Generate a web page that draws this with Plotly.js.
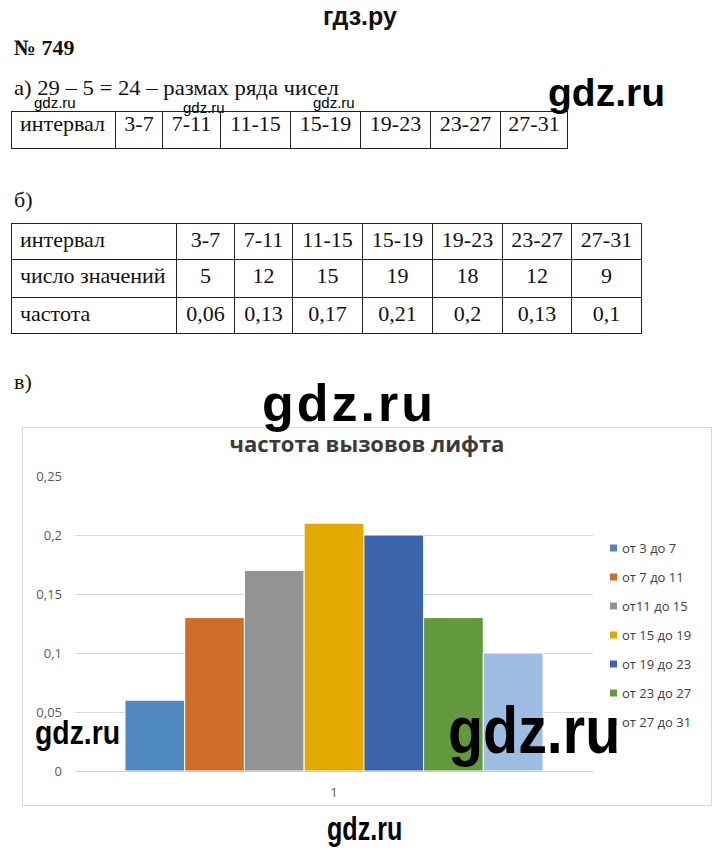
<!DOCTYPE html>
<html><head><meta charset="utf-8">
<script src="https://cdn.plot.ly/plotly-3.0.1.min.js"></script>
<style>
html,body{margin:0;padding:0;background:#fff;width:720px;height:863px;overflow:hidden}
body{position:relative}
.t{position:absolute;white-space:nowrap;line-height:1;color:#111;font-family:"Liberation Serif","Times New Roman",serif}
.wm{position:absolute;white-space:nowrap;line-height:1;font-family:"Liberation Sans",Arial,sans-serif;font-weight:bold;color:#000;z-index:10;transform-origin:0 0}
.cell{position:absolute;box-sizing:border-box;border:1px solid #222;font-family:"Liberation Serif","Times New Roman",serif;font-size:22px;line-height:1;color:#111;white-space:nowrap;display:flex;justify-content:center}
#frame{position:absolute;left:22px;top:427px;width:690px;height:379px;box-sizing:border-box;border:1px solid #d9d9d9;z-index:1;background:#fff}
#chart{position:absolute;left:0;top:0;width:688px;height:377px}
</style></head>
<body>
<div class="wm" style="left:323px;top:4px;font-size:25px;color:#111">гдз.ру</div>
<div class="t" style="left:14px;top:37px;font-size:22px;font-weight:bold">№ 749</div>
<div class="t" style="left:14px;top:77px;font-size:22px;transform:scaleX(1.03);transform-origin:0 0">а) 29 – 5 = 24 – размах ряда чисел</div>
<div class="wm" style="left:548px;top:73px;font-size:39px">gdz.ru</div>
<div class="wm" style="left:34px;top:95px;font-size:15px;font-weight:normal">gdz.ru</div>
<div class="wm" style="left:183px;top:100px;font-size:15px;font-weight:normal">gdz.ru</div>
<div class="wm" style="left:313px;top:95px;font-size:15px;font-weight:normal">gdz.ru</div>
<div id="tableA"></div>
<div class="t" style="left:14px;top:189px;font-size:22px">б)</div>
<div id="tableB"></div>
<div class="t" style="left:14px;top:371px;font-size:22px">в)</div>
<div class="wm" style="left:262px;top:377px;font-size:52px;letter-spacing:3px">gdz.ru</div>
<div id="frame"><div id="chart"></div></div>
<div class="wm" style="left:35px;top:716px;font-size:33px;transform:scaleX(0.86)">gdz.ru</div>
<div class="wm" style="left:448px;top:697px;font-size:66px;transform:scaleX(0.87)">gdz.ru</div>
<div class="wm" style="left:327px;top:812px;font-size:33px;transform:scaleX(0.76)">gdz.ru</div>
<script>
// ---- data ----
const intervals = ['3-7', '7-11', '11-15', '15-19', '19-23', '23-27', '27-31'];
const counts = [5, 12, 15, 19, 18, 12, 9];
const freqs = [0.06, 0.13, 0.17, 0.21, 0.2, 0.13, 0.1];
const seriesNames = ['от 3 до 7', 'от 7 до 11', 'от11 до 15', 'от 15 до 19', 'от 19 до 23', 'от 23 до 27', 'от 27 до 31'];
const category = ['1'];
const yTickVals = [0, 0.05, 0.1, 0.15, 0.2, 0.25];
const yTickText = ['0', '0,05', '0,1', '0,15', '0,2', '0,25'];
const rowLabels = ['интервал', 'число значений', 'частота'];
const chartTitle = 'частота вызовов лифта';

// ---- styles ----
const colors = ['#4f87c0', '#d26c2b', '#939393', '#e2aa00', '#3c64ad', '#63993d', '#9dbde3'];
const fmt = v => String(v).replace('.', ',');

function drawTable(host, colEdges, rowEdges, rows, padTop) {
  const el = document.getElementById(host);
  rows.forEach((row, r) => {
    row.forEach((txt, c) => {
      const d = document.createElement('div');
      d.className = 'cell';
      d.style.left = colEdges[c] + 'px';
      d.style.top = rowEdges[r] + 'px';
      d.style.width = (colEdges[c + 1] - colEdges[c] + 1) + 'px';
      d.style.height = (rowEdges[r + 1] - rowEdges[r] + 1) + 'px';
      d.style.paddingTop = padTop + 'px';
      if (c === 0) { d.style.justifyContent = 'flex-start'; d.style.paddingLeft = '8px'; }
      d.textContent = txt;
      el.appendChild(d);
    });
  });
}
drawTable('tableA', [11, 115, 162, 220, 290, 360, 430, 500, 567], [111, 148],
  [[rowLabels[0]].concat(intervals)], 1);
drawTable('tableB', [11, 176, 234, 292, 362, 432, 502, 571, 641], [223, 259, 297, 333],
  [[rowLabels[0]].concat(intervals),
   [rowLabels[1]].concat(counts.map(String)),
   [rowLabels[2]].concat(freqs.map(fmt))], 5);

// ---- chart ----
const traces = freqs.map((v, i) => ({
  type: 'bar', x: category, y: [v], name: seriesNames[i],
  marker: {color: colors[i], line: {color: '#ffffff', width: 1}},
  hoverinfo: 'skip'
}));

const plotL = 52, plotW = 518, plotT = 48, plotH = 295;
const shapes = [], annotations = [];
seriesNames.forEach((n, i) => {
  const yc = (771 - (548 + 29 * i)) / plotH;
  const x0 = (610 - 75) / plotW, x1 = (617 - 75) / plotW, h = 3.5 / plotH;
  shapes.push({type: 'rect', xref: 'paper', yref: 'paper', x0: x0, x1: x1, y0: yc - h, y1: yc + h,
    fillcolor: colors[i], line: {width: 0}});
  annotations.push({xref: 'paper', yref: 'paper', x: (620 - 75) / plotW, y: yc, xanchor: 'left', yanchor: 'middle',
    text: n, showarrow: false, font: {family: 'Open Sans, sans-serif', size: 13, color: '#404040'}});
});

const layout = {
  width: 688, height: 377,
  margin: {l: plotL, r: 688 - plotL - plotW, t: plotT, b: 377 - plotT - plotH, pad: 0},
  paper_bgcolor: '#ffffff', plot_bgcolor: '#ffffff',
  separators: ', ',
  font: {family: 'Open Sans, sans-serif', size: 13, color: '#595959'},
  title: {text: chartTitle, x: 0.5, xref: 'container', xanchor: 'center', y: 1 - 16 / 377, yref: 'container', yanchor: 'middle',
    font: {family: 'Open Sans, sans-serif', size: 22, color: '#3a3a3a', weight: 'bold'}},
  barmode: 'group', bargap: 0.193, bargroupgap: 0,
  showlegend: false,
  xaxis: {type: 'category', showgrid: false, showline: true, linecolor: '#d0d0d0', linewidth: 1, ticks: '',
    ticklabelstandoff: 9, tickfont: {size: 13, color: '#595959'}, fixedrange: true},
  yaxis: {range: [0, 0.25], tickvals: yTickVals, ticktext: yTickText, showgrid: true, gridcolor: '#d9d9d9', gridwidth: 1,
    zeroline: false, showline: false, ticks: '', ticklabelstandoff: 12, tickfont: {size: 13, color: '#595959'}, fixedrange: true},
  shapes: shapes, annotations: annotations
};
Plotly.newPlot('chart', traces, layout, {displayModeBar: false, staticPlot: true});
</script>
</body></html>
